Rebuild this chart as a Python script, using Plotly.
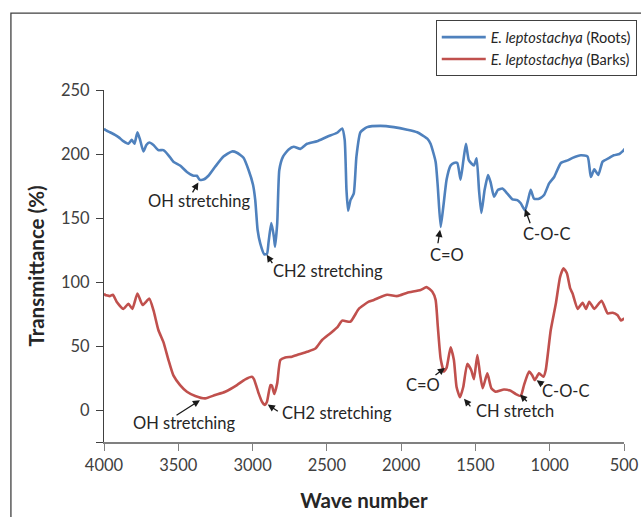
import plotly.graph_objects as go

# ---- data ----
roots_wn = [4000, 3993, 3960, 3926, 3900, 3870, 3836, 3813, 3795, 3775, 3757, 3735, 3715, 3695, 3667, 3634, 3600, 3566,
            3533, 3488, 3442, 3398, 3375, 3357, 3330, 3297, 3252, 3196, 3139, 3105, 3061, 3027, 2997, 2982, 2966, 2948,
            2921, 2903, 2892, 2874, 2856, 2849, 2834, 2820, 2795, 2757, 2723, 2678, 2633, 2566, 2498, 2431, 2397, 2380,
            2368, 2357, 2341, 2319, 2301, 2274, 2229, 2139, 2049, 1959, 1892, 1824, 1802, 1768, 1753, 1734, 1716, 1694,
            1667, 1645, 1622, 1600, 1581, 1564, 1544, 1510, 1492, 1476, 1460, 1438, 1415, 1398, 1375, 1348, 1318, 1285,
            1251, 1218, 1195, 1166, 1146, 1128, 1105, 1072, 1038, 1004, 970, 925, 880, 846, 790, 745, 723, 700, 673,
            644, 599, 569, 531, 510, 495]
roots_t = [220, 219, 217, 215, 213, 210, 208, 211, 208, 217, 211, 202, 207, 209, 207, 203, 203, 199,
           194, 191, 186, 183, 183, 180, 180, 183, 190, 198, 202, 201, 197, 187.5, 176, 164, 140.6, 130,
           121.6, 122, 131.5, 146, 135, 127.6, 146, 187.5, 198, 203.6, 205.7, 204, 208, 210, 213.5, 216.6, 220, 211,
           172, 155.7, 164, 169, 198, 217, 221, 222, 221, 219, 217, 212, 208, 194, 174, 143, 159, 180,
           191, 193, 193, 180, 195, 208, 195, 191, 196.6, 172, 154, 172, 183.6, 178, 166.6, 172, 173, 169,
           164.6, 164, 161.5, 156, 164, 172, 165, 165, 168, 177, 182, 193, 195, 197, 199, 198, 182, 188, 183.6,
           194, 197, 199, 200, 202, 204]

barks_wn = [4000, 3993, 3960, 3940, 3915, 3870, 3836, 3809, 3775, 3740, 3695, 3667, 3634, 3600, 3566, 3533, 3488,
            3442, 3386, 3319, 3252, 3184, 3105, 3049, 3004, 2990, 2959, 2937, 2919, 2903, 2880, 2870, 2854, 2834,
            2813, 2780, 2735, 2701, 2633, 2577, 2532, 2476, 2427, 2397, 2341, 2285, 2218, 2184, 2094, 2026, 1959,
            1869, 1829, 1790, 1768, 1753, 1734, 1712, 1694, 1667, 1645, 1627, 1604, 1582, 1555, 1528, 1510, 1487,
            1469, 1451, 1420, 1393, 1364, 1308, 1263, 1229, 1195, 1173, 1139, 1117, 1101, 1072, 1042, 1027, 993,
            959, 930, 907, 885, 862, 846, 812, 779, 756, 734, 700, 651, 610, 576, 543, 521, 498]
barks_t = [91, 90, 89, 90, 84.6, 79, 83, 79, 91, 82, 87, 78, 62.5, 53, 39, 27, 19.5,
           14.3, 11, 9.1, 11.7, 14.3, 19.5, 24, 26, 24, 13, 6.5, 4, 6.5, 19.5, 19, 12.5, 21,
           39, 41, 41.6, 43, 45.5, 48, 54.7, 60, 65, 69.8, 69, 79, 84.6, 86, 90, 89, 91.6,
           93.8, 96, 92.4, 86, 65, 40, 30, 33, 49, 39, 18, 10, 18, 36, 31, 24, 43,
           28, 17, 28.6, 17, 14.3, 16, 15, 12.5, 11, 19.5, 30, 27, 23.4, 28.6, 26, 31, 62.5,
           83, 104, 110.7, 107, 95, 91, 79, 83.8, 79, 84.6, 79, 85.4, 75.5, 76, 74, 70, 71.6]

x_ticks = [4000, 3500, 3000, 2500, 2000, 1500, 1000, 500]
y_ticks = [-25, 0, 50, 100, 150, 200, 250]
y_ticktext = ["", "0", "50", "100", "150", "200", "250"]

# labels: (text, text_x, text_y)
labels = [
    ("OH stretching", 3354, 163.4),
    ("CH2 stretching", 2492, 108.8),
    ("C=O", 1693, 120.9),
    ("C-O-C", 1015, 137.7),
    ("OH stretching", 3455, -10.5),
    ("CH2 stretching", 2432, -2.0),
    ("C=O", 1856, 19.9),
    ("CH stretch", 1237, -0.9),
    ("C-O-C", 890, 14.7),
]
# arrows: (head_x, head_y, tail_x, tail_y)
arrows = [
    (3365, 177.7, 3410, 168.9),
    (2905, 121.3, 2860, 113.5),
    (1738, 140.8, 1754, 129.1),
    (1166, 157.0, 1128, 144.7),
    (3354, 7.6, 3522, -4.8),
    (2898, 4.3, 2820, -1.7),
    (1705, 32.9, 1779, 26.4),
    (1577, 8.7, 1525, 1.7),
    (1200, 12.1, 1144, 5.6),
    (1088, 23.2, 1038, 19.1),
]

FONT = "Lato"
BLUE = "#4F81BD"
RED = "#C0504D"

fig = go.Figure()
fig.add_trace(go.Scatter(x=roots_wn, y=roots_t, mode="lines",
                         line=dict(color=BLUE, width=2.6, shape="spline", smoothing=0.5),
                         name="<i>E. leptostachya</i> (Roots)"))
fig.add_trace(go.Scatter(x=barks_wn, y=barks_t, mode="lines",
                         line=dict(color=RED, width=2.6, shape="spline", smoothing=0.5),
                         name="<i>E. leptostachya</i> (Barks)"))

for t, tx, ty in labels:
    fig.add_annotation(x=tx, y=ty, xref="x", yref="y", text=t, showarrow=False,
                       font=dict(family=FONT, size=16.5, color="#262626"))
for hx, hy, tx, ty in arrows:
    fig.add_annotation(x=hx, y=hy, ax=tx, ay=ty, xref="x", yref="y", axref="x", ayref="y",
                       text="", showarrow=True, arrowhead=2, arrowsize=1.1, arrowwidth=1.3,
                       arrowcolor="#1a1a1a", standoff=0, startstandoff=0)

# outer frame
fig.add_shape(type="rect", xref="paper", yref="paper", x0=-0.179, x1=1.3, y0=-0.5, y1=1.2184,
              line=dict(color="#404040", width=1.3), fillcolor="rgba(0,0,0,0)", layer="below")

fig.update_layout(
    width=641, height=517,
    margin=dict(l=104, r=17, t=90, b=74.5, autoexpand=False),
    paper_bgcolor="white", plot_bgcolor="white",
    font=dict(family=FONT, color="#404040"),
    showlegend=True,
    legend=dict(x=0.638, y=1.1986, xanchor="left", yanchor="top",
                bordercolor="#404040", borderwidth=1, bgcolor="white",
                font=dict(family=FONT, size=14.6, color="#262626"),
                tracegroupgap=0, itemwidth=44),
    xaxis=dict(range=[4000, 500], tickvals=x_ticks, ticks="outside", ticklen=7, automargin=False,
               tickcolor="#808080", linecolor="#808080", linewidth=1.6, showline=True,
               showgrid=False, zeroline=False,
               tickfont=dict(family=FONT, size=16.5, color="#404040"),
               title=dict(text="<b>Wave number</b>", standoff=20,
                          font=dict(family=FONT, size=20.5, color="#262626"))),
    yaxis=dict(range=[-25, 250], tickvals=y_ticks, ticktext=y_ticktext, ticks="outside", ticklen=7,
               automargin=False,
               tickcolor="#404040", linecolor="#404040", linewidth=1.2, showline=True,
               showgrid=False, zeroline=False, ticklabelstandoff=3,
               tickfont=dict(family=FONT, size=16.5, color="#404040"),
               title=dict(text="<b>Transmittance (%)</b>", standoff=10,
                          font=dict(family=FONT, size=20.5, color="#262626"))),
)

page_fix = ("document.documentElement.style.overflow='hidden';"
            "document.body.style.margin='0';"
            "document.body.style.overflow='hidden';")
fig.write_html("out.html", config={"displayModeBar": False}, post_script=page_fix)
